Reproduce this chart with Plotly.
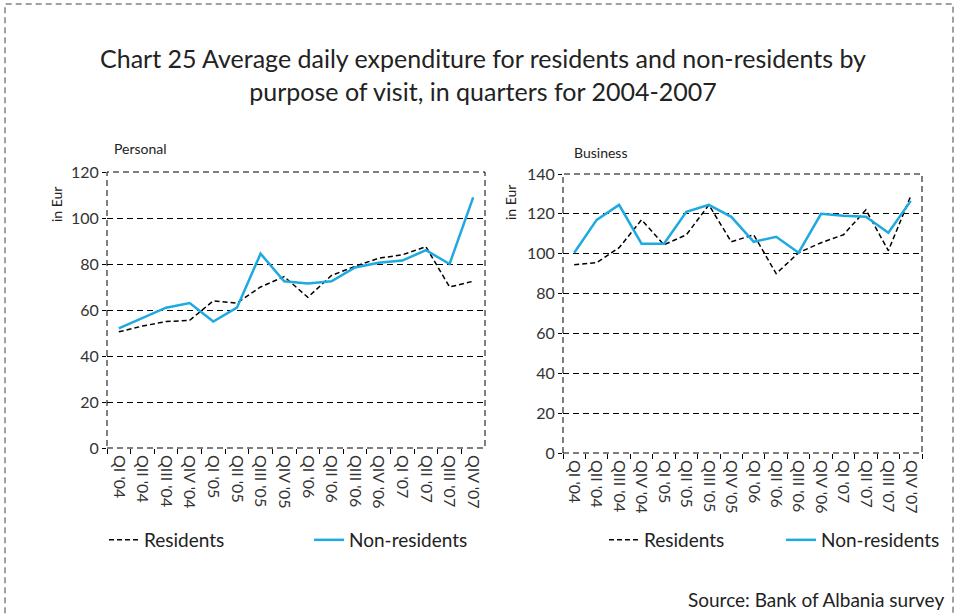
import plotly.graph_objects as go

quarters = ["QI '04", "QII '04", "QIII '04", "QIV '04",
            "QI '05", "QII '05", "QIII '05", "QIV '05",
            "QI '06", "QII '06", "QIII '06", "QIV '06",
            "QI '07", "QII '07", "QIII '07", "QIV '07"]

personal_residents = [50.5, 53, 55, 55.5, 64, 63, 70, 74.5, 65.5, 75, 79, 82.5, 84, 87.5, 70, 72.5]
personal_nonres = [52, 56.5, 61, 63, 55, 61, 84.5, 72.5, 71.5, 72.5, 78.5, 80.5, 81.5, 86, 80, 109]

business_residents = [94.5, 95.5, 103, 117, 104.5, 109.5, 124.5, 106, 109.5, 90, 100.5, 105.5, 109.5, 122, 101.5, 129]
business_nonres = [100.5, 117, 124.5, 105, 105, 121, 124.5, 118.5, 106, 108.5, 100.5, 120, 119, 118.5, 110.5, 126.5]

W, H = 958, 614
FONT = "Lato, sans-serif"
BLUE = "#1ea9e1"


def px_x(v):
    return v / W


def px_y(v):
    return 1 - v / H


fig = go.Figure()

# left panel (Personal)
fig.add_trace(go.Scatter(x=quarters, y=personal_residents, mode="lines", name="Residents",
                         line=dict(color="black", width=1.5, dash="5px,3px"),
                         xaxis="x", yaxis="y", legend="legend"))
fig.add_trace(go.Scatter(x=quarters, y=personal_nonres, mode="lines", name="Non-residents",
                         line=dict(color=BLUE, width=2.5),
                         xaxis="x", yaxis="y", legend="legend"))

# right panel (Business)
fig.add_trace(go.Scatter(x=quarters, y=business_residents, mode="lines", name="Residents",
                         line=dict(color="black", width=1.5, dash="5px,3px"),
                         xaxis="x2", yaxis="y2", legend="legend2"))
fig.add_trace(go.Scatter(x=quarters, y=business_nonres, mode="lines", name="Non-residents",
                         line=dict(color=BLUE, width=2.5),
                         xaxis="x2", yaxis="y2", legend="legend2"))

xcommon = dict(type="category", range=[-0.5, 15.5], showgrid=False, zeroline=False,
               ticks="outside", tickson="boundaries", ticklen=5, tickcolor="black",
               tickangle=90, tickfont=dict(family=FONT, size=16, color="#333"),
               ticklabelstandoff=6, showline=False, automargin=False)
ycommon = dict(showgrid=True, gridcolor="black", gridwidth=1, griddash="6px,4px",
               zeroline=False, ticks="outside", ticklen=4, tickcolor="black",
               tickfont=dict(family=FONT, size=16, color="#333"), automargin=False)

frame = dict(type="rect", x0=0, x1=1, y0=0, y1=1,
             line=dict(color="black", width=1, dash="6px,4px"), layer="above")

fig.update_layout(
    width=W, height=H,
    margin=dict(l=0, r=0, t=0, b=0),
    paper_bgcolor="white", plot_bgcolor="white",
    font=dict(family=FONT, color="#222"),
    xaxis=dict(xcommon, domain=[px_x(107), px_x(485)], anchor="y"),
    yaxis=dict(ycommon, domain=[px_y(448), px_y(172)], range=[0, 120], dtick=20, anchor="x"),
    xaxis2=dict(xcommon, domain=[px_x(563), px_x(922)], anchor="y2"),
    yaxis2=dict(ycommon, domain=[px_y(453), px_y(174)], range=[0, 140], dtick=20, anchor="x2"),
    legend=dict(orientation="h", x=px_x(104), y=px_y(540), yanchor="middle", xanchor="left",
                font=dict(family=FONT, size=19, color="#222"), itemwidth=30,
                entrywidth=160, entrywidthmode="pixels", bgcolor="rgba(0,0,0,0)"),
    legend2=dict(orientation="h", x=px_x(604), y=px_y(540), yanchor="middle", xanchor="left",
                 font=dict(family=FONT, size=19, color="#222"), itemwidth=30,
                 entrywidth=132, entrywidthmode="pixels", bgcolor="rgba(0,0,0,0)"),
    shapes=[
        dict(frame, xref="x domain", yref="y domain"),
        dict(frame, xref="x2 domain", yref="y2 domain"),
        dict(type="rect", xref="paper", yref="paper", x0=px_x(5), x1=px_x(953),
             y0=-0.05, y1=px_y(4), line=dict(color="#444", width=1, dash="6px,4px")),
    ],
    annotations=[
        dict(text="Chart 25 Average daily expenditure for residents and non-residents by<br>"
                  "purpose of visit, in quarters for 2004-2007",
             x=px_x(483), y=px_y(74), xref="paper", yref="paper", showarrow=False,
             xanchor="center", yanchor="middle", align="center",
             font=dict(family=FONT, size=25, color="#222")),
        dict(text="Personal", x=px_x(112), y=px_y(148), xref="paper", yref="paper",
             showarrow=False, xanchor="left", yanchor="middle",
             font=dict(family=FONT, size=14, color="#222")),
        dict(text="Business", x=px_x(572), y=px_y(152), xref="paper", yref="paper",
             showarrow=False, xanchor="left", yanchor="middle",
             font=dict(family=FONT, size=14, color="#222")),
        dict(text="in Eur", x=px_x(57), y=px_y(205), xref="paper", yref="paper",
             showarrow=False, textangle=-90, xanchor="center", yanchor="middle",
             font=dict(family=FONT, size=14, color="#222")),
        dict(text="in Eur", x=px_x(511), y=px_y(202), xref="paper", yref="paper",
             showarrow=False, textangle=-90, xanchor="center", yanchor="middle",
             font=dict(family=FONT, size=14, color="#222")),
        dict(text="Source: Bank of Albania survey", x=px_x(946), y=px_y(599),
             xref="paper", yref="paper", showarrow=False, xanchor="right", yanchor="middle",
             font=dict(family=FONT, size=19, color="#222")),
    ],
)

# drop the browser's default body margin so the figure sits at the page corner
fig.write_html("out.html", config={"displayModeBar": False},
               post_script="document.body.style.margin = '0';")
